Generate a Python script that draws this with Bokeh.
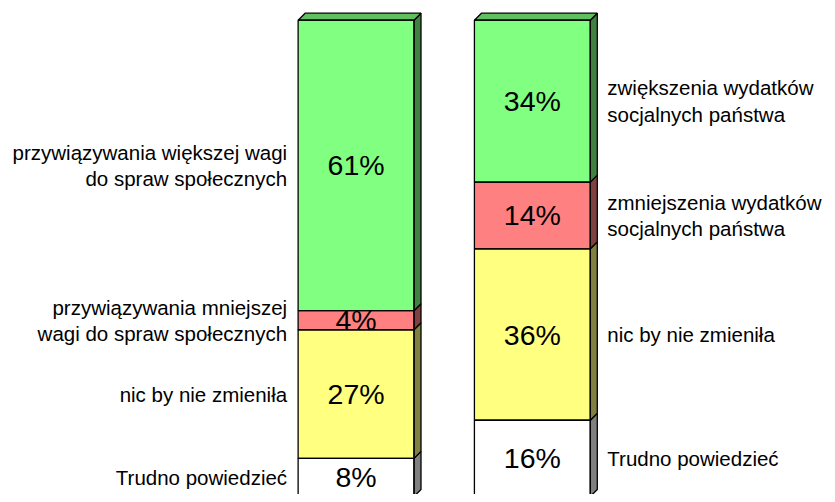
from bokeh.plotting import figure
from bokeh.models import Range1d, ColumnDataSource
from bokeh.core.properties import value
from bokeh.embed import file_html
from bokeh.resources import INLINE

# ---- data (bottom to top) ----
left_labels = ["Trudno powiedzieć", "nic by nie zmieniła",
               "przywiązywania mniejszej\nwagi do spraw społecznych",
               "przywiązywania większej wagi\ndo spraw społecznych"]
left_values = [8, 27, 4, 61]
right_labels = ["Trudno powiedzieć", "nic by nie zmieniła",
                "zmniejszenia wydatków\nsocjalnych państwa",
                "zwiększenia wydatków\nsocjalnych państwa"]
right_values = [16, 36, 14, 34]

# ---- styles ----
front_colors = ["#FFFFFF", "#FFFF80", "#FF8080", "#80FF80"]
side_colors = ["#808080", "#808040", "#804040", "#408040"]
top_color = "#60C060"
FONT = value("Liberation Sans")

W, H = 827, 494
sx, sy = W / 835.0, H / 502.0
px_per_x = 178.0 * sx
px_per_y = 4.84 * sy
x0_px = 359.0 * sx      # pixel position of bar 0 centre
base_px = 504.0 * sy    # pixel position of the 0% baseline
bar_w = 117.0 * sx / px_per_x
dx = 7.0 / px_per_x
dy = 7.0 / px_per_y

p = figure(width=W, height=H, output_backend="svg", toolbar_location=None,
           x_range=Range1d(-x0_px / px_per_x, (W - x0_px) / px_per_x),
           y_range=Range1d((base_px - H) / px_per_y, base_px / px_per_y),
           min_border=0, outline_line_color=None)
p.xaxis.visible = False
p.yaxis.visible = False
p.grid.visible = False
p.background_fill_color = "white"
p.border_fill_color = "white"

bars = [(0, left_values, left_labels, "right"), (1, right_values, right_labels, "left")]

front = dict(left=[], right=[], bottom=[], top=[], color=[])
sides = dict(xs=[], ys=[], color=[])
pct = dict(x=[], y=[], t=[])
lab_l = dict(x=[], y=[], t=[])
lab_r = dict(x=[], y=[], t=[])

for xi, vals, labs, side in bars:
    xl, xr = xi - bar_w / 2, xi + bar_w / 2
    cum = 0
    for k, v in enumerate(vals):
        b, t = cum, cum + v
        cum = t
        front["left"].append(xl); front["right"].append(xr)
        front["bottom"].append(b); front["top"].append(t)
        front["color"].append(front_colors[k])
        sides["xs"].append([xr, xr + dx, xr + dx, xr])
        sides["ys"].append([b, b + dy, t + dy, t])
        sides["color"].append(side_colors[k])
        pct["x"].append(xi); pct["y"].append((b + t) / 2); pct["t"].append(f"{v}%")
        if side == "right":
            lab_l["x"].append(xl - 11.0 / px_per_x); lab_l["y"].append((b + t) / 2); lab_l["t"].append(labs[k])
        else:
            lab_r["x"].append(xr + dx + 10.0 / px_per_x); lab_r["y"].append((b + t) / 2); lab_r["t"].append(labs[k])
    # top face
    sides["xs"].append([xl, xl + dx, xr + dx, xr])
    sides["ys"].append([cum, cum + dy, cum + dy, cum])
    sides["color"].append(top_color)

fs = ColumnDataSource(front)
p.quad(left="left", right="right", bottom="bottom", top="top", source=fs,
       fill_color="color", line_color=None)
p.patches(xs="xs", ys="ys", source=ColumnDataSource(sides), fill_color="color",
          line_color="black", line_width=1.3)
p.text(x="x", y="y", text="t", source=ColumnDataSource(pct), text_font=FONT,
       text_font_size="28.5px", text_align="center", text_baseline="middle", text_color="black")
p.quad(left="left", right="right", bottom="bottom", top="top", source=fs,
       fill_color=None, line_color="black", line_width=1.3)
p.text(x="x", y="y", text="t", source=ColumnDataSource(lab_l), text_font=FONT,
       text_font_size="20.5px", text_align="right", text_baseline="middle",
       text_line_height=1.15, text_color="black")
p.text(x="x", y="y", text="t", source=ColumnDataSource(lab_r), text_font=FONT,
       text_font_size="20.5px", text_align="left", text_baseline="middle",
       text_line_height=1.15, text_color="black")

open("out.html", "w").write(file_html(p, INLINE))
